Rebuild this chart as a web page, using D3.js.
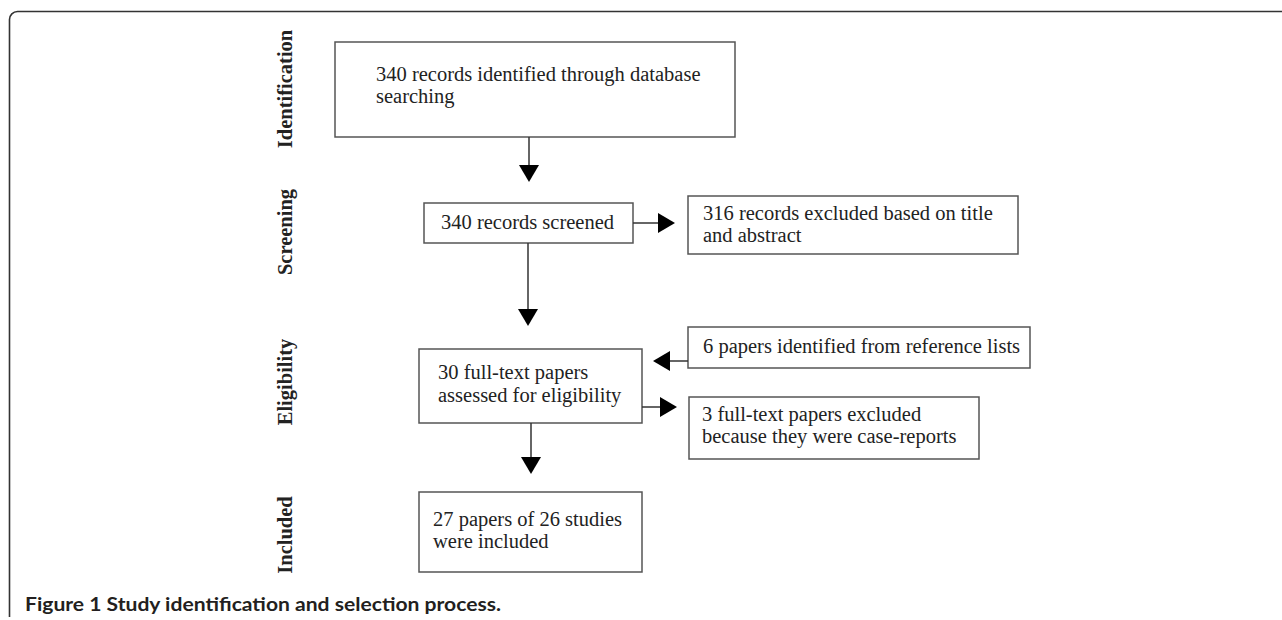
<!DOCTYPE html>
<html>
<head>
<meta charset="utf-8">
<script src="https://cdn.jsdelivr.net/npm/d3@7"></script>
<style>
    body { margin: 0; background: #fff; }
    svg { display: block; }
</style>
</head>
<body>
<svg id="chart" width="1282" height="620"></svg>
<script>
// stage labels down the left side
const stageLabels = ['Identification', 'Screening', 'Eligibility', 'Included'];

// main column boxes, one per stage
const mainBoxLines = [
    ['340 records identified through database', 'searching'],
    ['340 records screened'],
    ['30 full-text papers', 'assessed for eligibility'],
    ['27 papers of 26 studies', 'were included']
];

// side boxes
const sideBoxLines = [
    ['316 records excluded based on title', 'and abstract'],
    ['6 papers identified from reference lists'],
    ['3 full-text papers excluded', 'because they were case-reports']
];

const captionBold = 'Figure 1';
const captionText = ' Study identification and selection process.';

// ---- layout (kept apart from the data) ----
const W = 1282, H = 620;
const svg = d3.select('#chart');

const mainGeom = [
    {x0: 335, y0: 42, x1: 735, y1: 137, tx: 376, ty: 81, lh: 22},
    {x0: 424, y0: 203, x1: 633, y1: 243, tx: 441, ty: 229, lh: 22},
    {x0: 419, y0: 349, x1: 642, y1: 423, tx: 438, ty: 379, lh: 23},
    {x0: 419, y0: 492, x1: 642, y1: 572, tx: 433, ty: 526, lh: 22}
];
const sideGeom = [
    {x0: 688, y0: 196, x1: 1018, y1: 254, tx: 703, ty: 220, lh: 22},
    {x0: 688, y0: 327, x1: 1030, y1: 368, tx: 703, ty: 353, lh: 22},
    {x0: 689, y0: 397, x1: 979, y1: 459, tx: 702, ty: 421, lh: 22}
];
const stageCenters = [89, 232, 382, 535];

// arrows: start point and tip
const arrows = [
    {x1: 529, y1: 137, x2: 529, y2: 182},
    {x1: 528, y1: 243, x2: 528, y2: 326},
    {x1: 531, y1: 423, x2: 531, y2: 474},
    {x1: 633, y1: 223, x2: 675, y2: 223},
    {x1: 688, y1: 361, x2: 653, y2: 361},
    {x1: 642, y1: 407, x2: 677, y2: 407}
];

const serif = '"Liberation Serif", "Times New Roman", serif';
const boxStroke = '#555';
const textFill = '#222';

// outer frame: rounded top-left corner, open on the right and bottom
const r = 8, fx = 9.5, fy = 11.5;
const frame = d3.path();
frame.moveTo(fx, 617);
frame.lineTo(fx, fy + r);
frame.arcTo(fx, fy, fx + r, fy, r);
frame.lineTo(W, fy);
svg.append('path')
    .attr('d', frame.toString())
    .attr('fill', 'none')
    .attr('stroke', '#333')
    .attr('stroke-width', 1.6);

// stage labels, rotated
svg.selectAll('text.stage').data(stageLabels).enter()
    .append('text')
        .attr('class', 'stage')
        .attr('transform', (d, i) => `translate(292,${stageCenters[i]}) rotate(-90)`)
        .attr('text-anchor', 'middle')
        .attr('font-family', serif)
        .attr('font-weight', 'bold')
        .attr('font-size', 20.5)
        .attr('fill', textFill)
        .text(d => d);

function drawBoxes(lines, geom, cls) {
    const g = svg.selectAll('g.' + cls).data(lines).enter()
        .append('g')
            .attr('class', cls);
    g.append('rect')
        .attr('x', (d, i) => geom[i].x0)
        .attr('y', (d, i) => geom[i].y0)
        .attr('width', (d, i) => geom[i].x1 - geom[i].x0)
        .attr('height', (d, i) => geom[i].y1 - geom[i].y0)
        .attr('fill', '#fff')
        .attr('stroke', boxStroke)
        .attr('stroke-width', 1.5);
    g.each(function(d, i) {
        const t = d3.select(this).append('text')
            .attr('font-family', serif)
            .attr('font-size', 20.5)
            .attr('fill', textFill);
        t.selectAll('tspan').data(d).enter()
            .append('tspan')
                .attr('x', geom[i].tx)
                .attr('y', (s, j) => geom[i].ty + j * geom[i].lh)
                .text(s => s);
    });
}
drawBoxes(mainBoxLines, mainGeom, 'main-box');
drawBoxes(sideBoxLines, sideGeom, 'side-box');

// arrows: shaft then a filled triangle head
const headLen = 17, headHalf = 10;
arrows.forEach(a => {
    const dx = a.x2 - a.x1, dy = a.y2 - a.y1;
    const len = Math.sqrt(dx * dx + dy * dy);
    const ux = dx / len, uy = dy / len;
    const bx = a.x2 - ux * headLen, by = a.y2 - uy * headLen;
    svg.append('line')
        .attr('x1', a.x1).attr('y1', a.y1)
        .attr('x2', bx).attr('y2', by)
        .attr('stroke', '#333')
        .attr('stroke-width', 1.5);
    svg.append('path')
        .attr('d', `M${a.x2},${a.y2}L${bx - uy * headHalf},${by + ux * headHalf}L${bx + uy * headHalf},${by - ux * headHalf}Z`)
        .attr('fill', '#000');
});

// caption, squeezed a bit to the narrow width of the original face
const cap = svg.append('text')
    .attr('x', 25)
    .attr('y', 611)
    .attr('font-family', 'Lato, "Noto Sans", sans-serif')
    .attr('font-weight', 'bold')
    .attr('font-size', 19)
    .attr('fill', '#231f20')
    .attr('textLength', 476)
    .attr('lengthAdjust', 'spacingAndGlyphs');
cap.append('tspan').text(captionBold);
cap.append('tspan').text(captionText);
</script>
</body>
</html>
